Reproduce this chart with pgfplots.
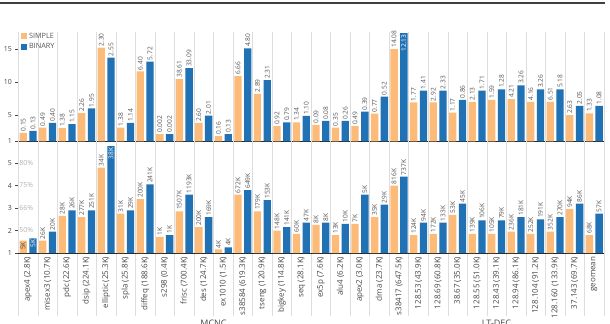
\documentclass[border=0pt]{standalone}
\usepackage{fontspec}
\setmainfont{Open Sans}
\usepackage{pgfplots}
\usepackage{pgfplotstable}
\pgfplotsset{compat=1.18}

\definecolor{cS}{RGB}{253,187,122}
\definecolor{cB}{RGB}{33,113,181}
\definecolor{tk}{RGB}{70,70,70}
\definecolor{lb}{RGB}{85,85,85}
\definecolor{gl}{RGB}{221,221,221}

\pgfplotstableread{
i s b sl bl
0 2.3 2.6 0.15 0.13
1 3.1 3.8 0.49 0.40
2 3.0 3.6 1.38 1.15
3 5.3 6.0 2.26 1.95
4 15.2 13.7 2.30 2.55
5 3.1 3.8 1.38 1.14
6 11.6 13.1 6.40 5.72
7 2.1 2.1 0.002 0.002
8 10.45 12.1 38.61 33.09
9 3.8 4.9 2.60 2.01
10 1.8 2.1 0.16 0.13
11 10.9 15.1 6.66 4.80
12 8.2 10.3 2.89 2.31
13 3.3 3.9 0.92 0.79
14 3.9 4.85 1.34 1.10
15 3.5 4.1 0.09 0.08
16 3.1 4.1 0.35 0.26
17 3.3 5.5 0.49 0.39
18 5.2 7.8 0.77 0.52
19 15.0 17.4 14.08 {}
20 6.9 8.7 1.77 1.41
21 6.9 8.7 2.92 2.33
22 5.35 7.3 1.17 0.86
23 7.0 8.7 2.13 1.71
24 7.3 8.9 1.59 1.28
25 7.4 9.5 4.21 3.26
26 7.0 8.9 4.16 3.26
27 7.0 8.9 6.51 5.18
28 5.0 6.4 2.63 2.05
29 5.25 6.4 1.33 1.08
}\toptab

\pgfplotstableread{
i b bl
19 17.4 12.13
}\toptabin

\pgfplotstableread{
i s b sl bl
0 1.55 1.65 {} {}
1 1.55 1.95 26K 20K
2 2.65 2.9 28K 26K
3 2.6 2.9 277K 251K
4 4.8 5.75 34K {}
5 2.75 2.9 31K 29K
6 3.4 4.05 200K 241K
7 1.72 1.8 1K 1K
8 2.85 3.6 1507K 1193K
9 2.15 2.6 200K 169K
10 1.16 1.25 4K 4K
11 3.6 3.8 672K 649K
12 2.85 3.35 179K 153K
13 2.0 2.15 148K 141K
14 1.85 2.35 60K 47K
15 2.25 2.35 8K 8K
16 1.8 2.3 13K 10K
17 2.3 3.6 7K 5K
18 2.6 3.15 35K 29K
19 4.0 4.4 816K 737K
20 1.8 2.35 124K 94K
21 1.85 2.35 172K 133K
22 2.7 3.2 53K 45K
23 1.85 2.45 139K 106K
24 1.85 2.45 105K 79K
25 1.95 2.6 236K 181K
26 1.85 2.5 252K 191K
27 1.95 2.6 352K 270K
28 2.95 3.2 94K 86K
29 1.8 2.75 68K 57K
}\bottab

\pgfplotstableread{
i s sl
0 1.55 5K
}\bottabinS

\pgfplotstableread{
i b bl
0 1.65 5K
4 5.75 38K
}\bottabinB

\pgfplotsset{
  common/.style={
    scale only axis, width=585.7bp,
    xmin=-0.5, xmax=29.5,
    ybar, bar width=0.375,
    separate axis lines,
    axis x line*=bottom, axis y line*=left,
    x axis line style={-, draw=black!85, line width=0.8bp},
    y axis line style={-, draw=gl},
    tick align=outside,
    xtick={0,...,29},
    major x tick style={draw=none},
    minor xtick={-0.5,0.5,...,29.5},
    xminorgrids=true,
    minor x grid style={gl, line width=0.6bp},
    minor x tick style={gl, line width=0.6bp},
    ytick style={draw=tk, line width=0.6bp},
    major tick length=3bp,
    yticklabel style={font=\fontsize{7}{8}\selectfont, text=tk},
    /pgf/number format/assume math mode=true,
    clip mode=individual,
    nodes near coords style={rotate=90, anchor=west, font=\fontsize{6.6}{7}\selectfont, text=lb, inner sep=1.2bp},
  },
}

\begin{document}
\begin{tikzpicture}
\draw[line width=1.6bp, black!75] (0,-3bp) -- (604.5bp,-3bp);

\begin{axis}[common, at={(18.3bp,-141.4bp)}, anchor=south west,
  height=109.4bp, ymin=1, ymax=17.58, ytick={1,5,10,15},
  xticklabels={}, minor tick length=0pt,
  legend style={at={(0.004,1.012)}, anchor=north west, draw=none, fill=none,
    font=\fontsize{7.3}{8.5}\selectfont, text=lb, inner sep=0pt, row sep=0pt},
  legend cell align=left,
  legend image code/.code={\fill[#1] (0bp,-3.1bp) rectangle (6.2bp,3.3bp);},
]
\addplot[fill=cS, draw=none, bar shift=0pt, point meta=explicit symbolic, nodes near coords]
  table[x expr=\thisrow{i}-0.25, y=s, meta=sl]{\toptab};
\addlegendentry{SIMPLE}
\addplot[fill=cB, draw=none, bar shift=0pt, point meta=explicit symbolic, nodes near coords]
  table[x expr=\thisrow{i}+0.25, y=b, meta=bl]{\toptab};
\addlegendentry{BINARY}
\addplot[draw=none, fill=none, bar shift=0pt, forget plot, point meta=explicit symbolic,
  nodes near coords, nodes near coords style={anchor=east, text=white}]
  table[x expr=\thisrow{i}+0.25, y=b, meta=bl]{\toptabin};
\end{axis}

\begin{axis}[common, at={(18.3bp,-253bp)}, anchor=south west,
  height=111.6bp, ymin=1, ymax=5.96, ytick={1,2,3,4,5},
  xticklabels={apex4 (2.8K), misex3 (10.7K), pdc (22.6K), dsip (224.1K), elliptic (25.3K), spla (25.8K), diffeq (188.6K), s298 (0.4K), frisc (700.4K), des (124.7K), ex1010 (1.5K), s38584 (619.3K), tseng (120.9K), bigkey (114.8K), seq (28.1K), ex5p (7.6K), alu4 (6.2K), apex2 (3.0K), clma (23.7K), s38417 (647.5K), 128.53 (43.9K), 128.69 (60.8K), 38.67 (35.0K), 128.55 (51.0K), 128.43 (39.1K), 128.94 (86.1K), 128.104 (91.2K), 128.160 (133.9K), 37.143 (69.7K), geomean},
  xticklabel style={rotate=90, anchor=east, font=\fontsize{8}{9}\selectfont, text=tk, inner sep=0.5bp},
  minor tick length=63bp,
]
\addplot[fill=cS, draw=none, bar shift=0pt, point meta=explicit symbolic, nodes near coords]
  table[x expr=\thisrow{i}-0.25, y=s, meta=sl]{\bottab};
\addplot[fill=cB, draw=none, bar shift=0pt, point meta=explicit symbolic, nodes near coords]
  table[x expr=\thisrow{i}+0.25, y=b, meta=bl]{\bottab};
\addplot[draw=none, fill=none, bar shift=0pt, forget plot, point meta=explicit symbolic,
  nodes near coords, nodes near coords style={anchor=east, text=tk}]
  table[x expr=\thisrow{i}-0.25, y=s, meta=sl]{\bottabinS};
\addplot[draw=none, fill=none, bar shift=0pt, forget plot, point meta=explicit symbolic,
  nodes near coords, nodes near coords style={anchor=east, text=white}]
  table[x expr=\thisrow{i}+0.25, y=b, meta=bl]{\bottabinB};
\node[anchor=west, font=\fontsize{7}{8}\selectfont, text=gray!60, inner sep=0.8bp] at (axis cs:-0.5,5) {80\%};
\node[anchor=west, font=\fontsize{7}{8}\selectfont, text=gray!60, inner sep=0.8bp] at (axis cs:-0.5,4) {75\%};
\node[anchor=west, font=\fontsize{7}{8}\selectfont, text=gray!60, inner sep=0.8bp] at (axis cs:-0.5,3) {66\%};
\node[anchor=west, font=\fontsize{7}{8}\selectfont, text=gray!60, inner sep=0.8bp] at (axis cs:-0.5,2) {50\%};
\end{axis}

\node[anchor=north, inner sep=0pt, font=\fontsize{9}{10}\selectfont, text=tk] at (213.5bp,-319.5bp) {MCNC};
\node[anchor=north, inner sep=0pt, font=\fontsize{9}{10}\selectfont, text=tk] at (496.5bp,-319.5bp) {LT-DEC};

\pgfresetboundingbox
\useasboundingbox (0,-324bp) rectangle (610bp,0);
\end{tikzpicture}
\end{document}
